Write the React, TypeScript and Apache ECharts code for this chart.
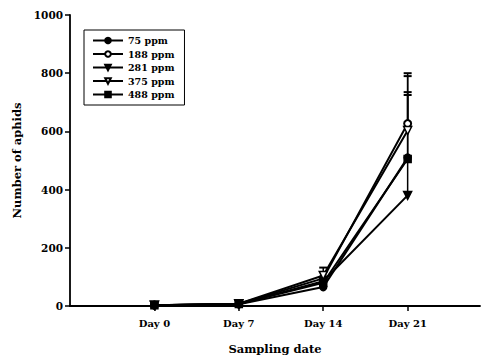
import React, { useEffect, useRef } from "react";
import * as echarts from "echarts";

const days = [0, 7, 14, 21];
const dayLabels = ["Day 0", "Day 7", "Day 14", "Day 21"];
const seriesNames = ["75 ppm", "188 ppm", "281 ppm", "375 ppm", "488 ppm"];
const ppm75 = [3, 6, 65, 510];
const ppm188 = [3, 8, 95, 627];
const ppm281 = [3, 7, 85, 380];
const ppm375 = [3, 8, 105, 603];
const ppm488 = [3, 7, 80, 505];
// upper ends of the (one-sided) error bars
const upper188 = [null, null, null, 800];
const upper281 = [null, null, null, 725];
const upper375 = [null, null, 132, 790];
const upper488 = [null, null, null, 735];
const yTicks = [0, 200, 400, 600, 800, 1000];

const FONT = "DejaVu Serif";

export default function App() {
  const ref = useRef<HTMLDivElement>(null);
  useEffect(() => {
    if (!ref.current) return;
    const chart = echarts.init(ref.current, null, { renderer: "svg" });
    const values = [ppm75, ppm188, ppm281, ppm375, ppm488];
    const symbols = ["circle", "emptyCircle", "triangle", "triangle", "rect"];
    const rotates = [0, 0, 180, 180, 0];
    const fills = ["#000", "#000", "#000", "#fff", "#000"];
    const sizes = [7, 7, 8, 8, 7];
    const lineSeries = seriesNames.map((name, i) => ({
      name,
      type: "line",
      data: days.map((d, j) => [d, values[i][j]]),
      symbol: symbols[i],
      symbolRotate: rotates[i],
      symbolSize: sizes[i],
      z: 3,
      lineStyle: { color: "#000", width: 2 },
      itemStyle: { color: fills[i], borderColor: "#000", borderWidth: 1.5 },
    }));
    const errData: number[][] = [];
    [upper188, upper281, upper375, upper488].forEach((arr, k) => {
      const base = [ppm188, ppm281, ppm375, ppm488][k];
      arr.forEach((u, j) => {
        if (u != null) errData.push([days[j], base[j], u]);
      });
    });
    const errSeries = {
      type: "custom",
      silent: true,
      z: 2,
      data: errData,
      renderItem: (params: any, api: any) => {
        const p0 = api.coord([api.value(0), api.value(1)]);
        const p1 = api.coord([api.value(0), api.value(2)]);
        const style = { stroke: "#000", lineWidth: 1.5 };
        return {
          type: "group",
          children: [
            { type: "line", shape: { x1: p0[0], y1: p0[1], x2: p1[0], y2: p1[1] }, style },
            { type: "line", shape: { x1: p1[0] - 4, y1: p1[1], x2: p1[0] + 4, y2: p1[1] }, style: { stroke: "#000", lineWidth: 2 } },
          ],
        };
      },
    };
    chart.setOption({
      animation: false,
      backgroundColor: "#fff",
      grid: { left: 70, right: 4, top: 15, bottom: 50 },
      legend: {
        data: seriesNames,
        orient: "vertical",
        left: 84,
        top: 30,
        padding: [5, 10, 5, 8],
        itemGap: 2.5,
        itemWidth: 30,
        itemHeight: 7,
        borderColor: "#000",
        borderWidth: 1,
        textStyle: { fontFamily: FONT, fontWeight: "bold", fontSize: 9.5, color: "#000", lineHeight: 11 },
      },
      xAxis: {
        type: "value",
        min: -7,
        max: 27,
        interval: 7,
        name: "Sampling date",
        nameLocation: "middle",
        nameGap: 37,
        nameTextStyle: { fontFamily: FONT, fontWeight: "bold", fontSize: 11.5, color: "#000" },
        splitLine: { show: false },
        axisLine: { onZero: false, lineStyle: { color: "#000", width: 1.8 } },
        axisTick: { customValues: days, length: 5, lineStyle: { color: "#000", width: 1.5 } },
        axisLabel: {
          customValues: days,
          formatter: (v: number) => dayLabels[days.indexOf(v)] ?? "",
          fontFamily: FONT,
          fontWeight: "bold",
          fontSize: 10,
          color: "#000",
          margin: 12,
        },
      },
      yAxis: {
        type: "value",
        min: 0,
        max: 1000,
        interval: 200,
        name: "Number of aphids",
        nameLocation: "middle",
        nameGap: 47,
        nameTextStyle: { fontFamily: FONT, fontWeight: "bold", fontSize: 11.5, color: "#000" },
        splitLine: { show: false },
        axisLine: { show: true, onZero: false, lineStyle: { color: "#000", width: 1.8 } },
        axisTick: { show: true, length: 5, lineStyle: { color: "#000", width: 1.5 } },
        axisLabel: {
          customValues: yTicks,
          formatter: (v: number) => String(v),
          fontFamily: FONT,
          fontWeight: "bold",
          fontSize: 10.5,
          color: "#000",
          margin: 7,
        },
      },
      series: [errSeries, ...lineSeries],
    });
    return () => chart.dispose();
  }, []);
  return <div ref={ref} style={{ width: 484, height: 360, position: "absolute", left: 0, top: 0 }} />;
}
